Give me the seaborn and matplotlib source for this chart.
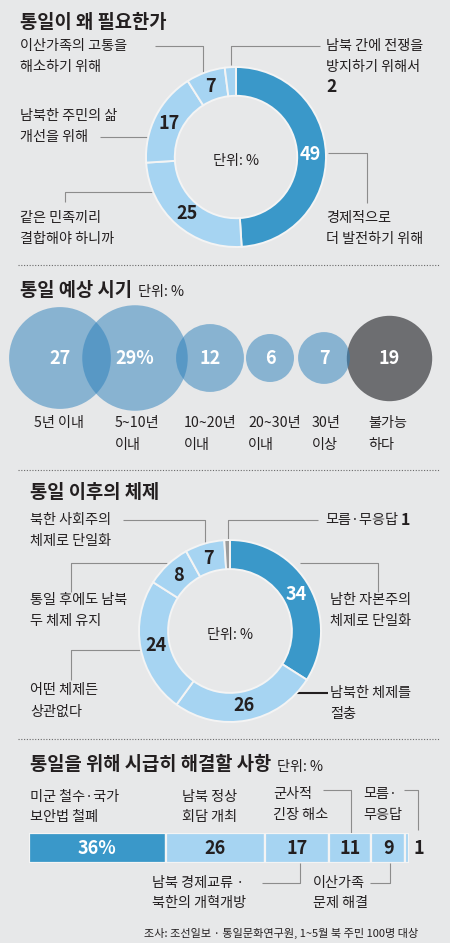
import numpy as np
import matplotlib
matplotlib.use("Agg")
import matplotlib.pyplot as plt
import seaborn as sns
import pandas as pd

# --- Daten ---
why_labels = ["경제적으로\n더 발전하기 위해", "같은 민족끼리\n결합해야 하니까",
              "남북한 주민의 삶\n개선을 위해", "이산가족의 고통을\n해소하기 위해",
              "남북 간에 전쟁을\n방지하기 위해서"]
why_values = [49, 25, 17, 7, 2]

when_labels = ["5년 이내", "5~10년\n이내", "10~20년\n이내", "20~30년\n이내",
               "30년\n이상", "불가능\n하다"]
when_values = [27, 29, 12, 6, 7, 19]

system_labels = ["남한 자본주의\n체제로 단일화", "남북한 체제를\n절충", "어떤 체제든\n상관없다",
                 "통일 후에도 남북\n두 체제 유지", "북한 사회주의\n체제로 단일화", "모름·무응답"]
system_values = [34, 26, 24, 8, 7, 1]

task_labels = ["미군 철수·국가\n보안법 철폐", "남북 정상\n회담 개최", "남북 경제교류 ·\n북한의 개혁개방",
               "군사적\n긴장 해소", "이산가족\n문제 해결", "모름·\n무응답"]
task_values = [36, 26, 17, 11, 9, 1]

source = "조사: 조선일보 · 통일문화연구원, 1~5월 북 주민 100명 대상"

# --- Stil ---
BG = "#e7e8e9"
DARK = "#3a98c9"
LIGHT = "#a6d4f2"
GREY_SEG = "#9b9b9b"
BUBBLE = "#2a7fbb"
BUBBLE_GREY = "#6d6e71"
INK = "#231f20"
LINE = "#8c8c8c"
SEP = "#f4f4f4"
W, H = 450, 943
FS = 10.2      # Beschriftungen
NUM = 13       # Zahlen

sns.set_theme(style="white")
plt.rcParams["font.family"] = ["Noto Sans CJK KR", "DejaVu Sans"]

fig = plt.figure(figsize=(W / 100, H / 100), dpi=100, facecolor=BG)
ax = fig.add_axes([0, 0, 1, 1])
ax.set_xlim(0, W)
ax.set_ylim(H, 0)
ax.axis("off")


def put(x, y, text, step=21, size=FS, **kw):
    for i, line in enumerate(text.split("\n")):
        ax.text(x, y + i * step, line, fontsize=size, color=INK, va="center", ha="left", **kw)


def leader(pts, color=LINE, lw=0.8):
    xs, ys = zip(*pts)
    ax.plot(xs, ys, color=color, lw=lw, solid_capstyle="butt")


def title(x, y, text, unit=None):
    t = ax.text(x, y, text, fontsize=13.5, fontweight="bold", color=INK, va="center")
    if unit:
        ax.annotate(unit, xy=(1, 0), xycoords=t, xytext=(4, 0.5), textcoords="offset points",
                    fontsize=FS, va="bottom", color=INK)


def donut(cx, cy, r, values, colors):
    dax = fig.add_axes([(cx - r) / W, 1 - (cy + r) / H, 2 * r / W, 2 * r / H])
    wedges, _, nums = dax.pie(values, colors=colors, startangle=90, counterclock=False,
                              wedgeprops=dict(width=0.32, edgecolor=SEP, linewidth=1.4),
                              autopct=lambda p: f"{p:.0f}" if p >= 3 else "", pctdistance=0.83,
                              textprops=dict(fontsize=NUM, fontweight="bold", color=INK))
    nums[0].set_color("white")
    dax.set_xlim(-1, 1)
    dax.set_ylim(-1, 1)
    dax.set_facecolor("none")
    ax.text(cx, cy + 4, "단위: %", fontsize=FS, color=INK, ha="center", va="center")
    return dax


def separator(y):
    ax.plot([18, 440], [y, y], ls=(0, (1, 1.5)), color="#6a6a6a", lw=0.8)


# --- 1) 통일이 왜 필요한가 ---
title(20, 22, "통일이 왜 필요한가")
donut(236, 157, 90, why_values, [DARK] + [LIGHT] * 4)
put(326, 218, why_labels[0])
put(20, 218, why_labels[1])
put(20, 116, why_labels[2])
put(20, 46, why_labels[3])
put(326, 46, why_labels[4])
ax.text(326, 87, str(why_values[4]), fontsize=12.5, fontweight="bold", color=INK, va="center")
leader([(155, 46), (203, 46), (203, 73)])
leader([(320, 46), (231, 46), (231, 65)])
leader([(100, 137), (150, 137)])
leader([(65, 202), (65, 192), (157, 192)])
leader([(328, 153), (367, 153), (367, 203)])

separator(265)

# --- 2) 통일 예상 시기 ---
title(20, 290, "통일 예상 시기", "단위: %")
bubble_x = [60, 135, 210, 270, 324, 389]
label_x = [34, 115, 184, 248, 312, 368]
bubble_y = 358
K = 199  # Punkt^2 pro Prozent (Kreisfläche ~ Wert)
df = pd.DataFrame({"label": when_labels, "value": when_values, "x": bubble_x, "y": bubble_y})
grey = df["label"] == "불가능\n하다"
sns.scatterplot(data=df[grey], x="x", y="y", size="value", sizes=(0, K * 30), size_norm=(0, 30),
                color=BUBBLE_GREY, linewidth=0, legend=False, ax=ax)
sns.scatterplot(data=df[~grey], x="x", y="y", size="value", sizes=(0, K * 30), size_norm=(0, 30),
                color=BUBBLE, alpha=0.5, linewidth=0, legend=False, ax=ax)
top = max(when_values)
for v, bx, lx, lab in zip(when_values, bubble_x, label_x, when_labels):
    ax.text(bx, bubble_y, f"{v}%" if v == top else str(v), fontsize=NUM, fontweight="bold",
            color="white", ha="center", va="center")
    put(lx, 423, lab, step=22)
ax.set_xlim(0, W)
ax.set_ylim(H, 0)

separator(470)

# --- 3) 통일 이후의 체제 ---
title(30, 493, "통일 이후의 체제")
donut(230, 631, 91, system_values, [DARK] + [LIGHT] * 4 + [GREY_SEG])
put(330, 600, system_labels[0])
put(330, 693, system_labels[1])
put(30, 690, system_labels[2], step=22)
put(30, 600, system_labels[3])
put(30, 520, system_labels[4])
t1 = ax.text(325, 520, system_labels[5], fontsize=FS, color=INK, va="center")
ax.annotate(str(system_values[5]), xy=(1, 0.5), xycoords=t1, xytext=(2, 0),
            textcoords="offset points", fontsize=11.5, fontweight="bold", color=INK, va="center")
leader([(123, 520), (205, 520), (205, 543)])
leader([(318, 520), (228, 520), (228, 540)])
leader([(71, 592), (71, 563), (167, 563)])
leader([(71, 680), (71, 650), (143, 650)])
leader([(300, 563), (378, 563), (378, 592)])
leader([(295, 693), (328, 693)], color=INK, lw=1.5)

separator(739)

# --- 4) 통일을 위해 시급히 해결할 사항 ---
title(30, 765, "통일을 위해 시급히 해결할 사항", "단위: %")
bax = fig.add_axes([29 / W, 1 - 863 / H, 380 / W, 30 / H])
left = np.concatenate([[0], np.cumsum(task_values)[:-1]])
bar_colors = [DARK] + [LIGHT] * (len(task_values) - 1)
bax.barh(0, task_values, left=left, height=1, color=bar_colors, edgecolor=SEP, linewidth=1.6)
bax.set_xlim(0, sum(task_values))
bax.set_ylim(-0.5, 0.5)
bax.axis("off")
for i, (v, l) in enumerate(zip(task_values, left)):
    if v >= 5:
        bax.text(l + v / 2, 0, f"{v}%" if i == 0 else str(v), fontsize=NUM, fontweight="bold",
                 color="white" if i == 0 else INK, ha="center", va="center")
bax.annotate(str(task_values[-1]), xy=(sum(task_values), 0), xytext=(3, 0),
             textcoords="offset points", fontsize=NUM, fontweight="bold", color=INK,
             ha="left", va="center")

put(30, 797, task_labels[0], step=20)
put(182, 797, task_labels[1], step=20)
put(152, 883, task_labels[2], step=20)
put(273, 794, task_labels[3], step=21)
put(313, 883, task_labels[4], step=20)
put(363, 794, task_labels[5], step=21)
leader([(323, 790), (351, 790), (351, 833)])
leader([(404, 790), (418, 790), (418, 830)])
leader([(262, 883), (300, 883), (300, 863)])
leader([(370, 883), (390, 883), (390, 863)])

ax.text(418, 933, source, fontsize=8, color=INK, ha="right", va="center")

fig.savefig("out.png", dpi=100, facecolor=BG)
